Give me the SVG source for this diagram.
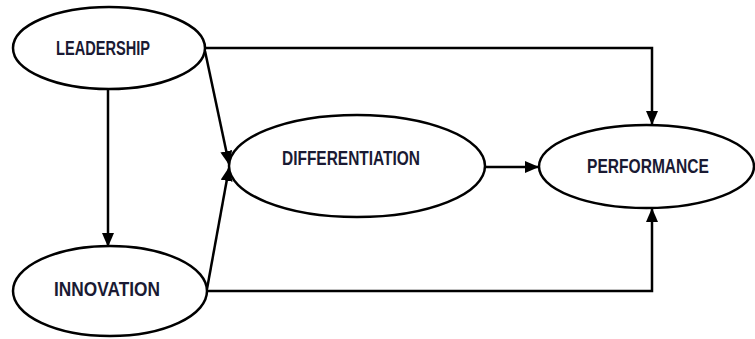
<svg xmlns="http://www.w3.org/2000/svg" width="755" height="339" viewBox="0 0 755 339">
<style>
.n{fill:#fff;stroke:#000;stroke-width:2.5}
.c{fill:none;stroke:#000;stroke-width:2.5}
.t{font-family:"Liberation Sans",Arial,sans-serif;font-weight:bold;font-size:20px;fill:#1a1a33}
</style>
<defs>
<marker id="ah" markerUnits="userSpaceOnUse" markerWidth="14" markerHeight="12" viewBox="0 0 14 12" refX="13" refY="6" orient="auto">
<path d="M0,0 L14,6 L0,12 Z" fill="#000"/>
</marker>
</defs>
<rect width="755" height="339" fill="#fff"/>
<g id="connectors">
<path class="c" d="M205,48 H652 V124" marker-end="url(#ah)"/>
<path class="c" d="M108,90 V246" marker-end="url(#ah)"/>
<path class="c" d="M205,51 L229,164" marker-end="url(#ah)"/>
<path class="c" d="M207,289 L229,168" marker-end="url(#ah)"/>
<path class="c" d="M207,291 H652 V209" marker-end="url(#ah)"/>
<path class="c" d="M485,167 H538" marker-end="url(#ah)"/>
</g>
<g id="leadership">
<ellipse class="n" cx="109" cy="48" rx="96" ry="41"/>
<text class="t" x="56" y="55" textLength="94" lengthAdjust="spacingAndGlyphs">LEADERSHIP</text>
</g>
<g id="innovation">
<ellipse class="n" cx="110" cy="291" rx="97" ry="45"/>
<text class="t" x="54" y="296" textLength="106" lengthAdjust="spacingAndGlyphs">INNOVATION</text>
</g>
<g id="differentiation">
<ellipse class="n" cx="357" cy="166" rx="128" ry="51"/>
<text class="t" x="282" y="165" textLength="138" lengthAdjust="spacingAndGlyphs">DIFFERENTIATION</text>
</g>
<g id="performance">
<ellipse class="n" cx="646.5" cy="166.5" rx="107.5" ry="41.5"/>
<text class="t" x="587" y="173" textLength="122" lengthAdjust="spacingAndGlyphs">PERFORMANCE</text>
</g>
</svg>
